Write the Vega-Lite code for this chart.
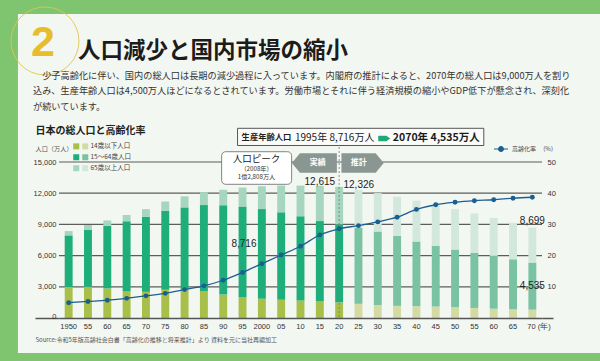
{
  "$schema": "https://vega.github.io/schema/vega-lite/v6.json",
  "autosize": {"type": "none"},
  "padding": {"left": 59, "top": 162, "right": 58, "bottom": 43},
  "width": 483,
  "height": 156,
  "background": "#7fc56f",
  "title": {
    "text": "​　　人口減少と国内市場の縮小",
    "subtitle": [
      "​　少子高齢化に伴い、国内の総人口は長期の減少過程に入っています。内閣府の推計によると、2070年の総人口は9,000万人を割り",
      "込み、生産年齢人口は4,500万人ほどになるとされています。労働市場とそれに伴う経済規模の縮小やGDP低下が懸念され、深刻化",
      "が続いています。"
    ],
    "anchor": "start",
    "frame": "group",
    "orient": "top",
    "dx": -26,
    "offset": -107,
    "font": "Noto Sans CJK JP",
    "fontSize": 22.5,
    "fontWeight": "bold",
    "color": "#1c1c1c",
    "subtitleFont": "Noto Sans CJK JP",
    "subtitleFontSize": 9.2,
    "subtitleColor": "#333333",
    "subtitleLineHeight": 15.5,
    "subtitlePadding": 9,
    "zindex": 2
  },
  "datasets": {
    "pop": [
      {"year": "1950", "group": "14歳以下人口", "value": 2979}, {"year": "1950", "group": "15～64歳人口", "value": 4966}, {"year": "1950", "group": "65歳以上人口", "value": 416},
      {"year": "1955", "group": "14歳以下人口", "value": 2998}, {"year": "1955", "group": "15～64歳人口", "value": 5473}, {"year": "1955", "group": "65歳以上人口", "value": 475},
      {"year": "1960", "group": "14歳以下人口", "value": 2843}, {"year": "1960", "group": "15～64歳人口", "value": 6000}, {"year": "1960", "group": "65歳以上人口", "value": 535},
      {"year": "1965", "group": "14歳以下人口", "value": 2553}, {"year": "1965", "group": "15～64歳人口", "value": 6744}, {"year": "1965", "group": "65歳以上人口", "value": 618},
      {"year": "1970", "group": "14歳以下人口", "value": 2515}, {"year": "1970", "group": "15～64歳人口", "value": 7212}, {"year": "1970", "group": "65歳以上人口", "value": 739},
      {"year": "1975", "group": "14歳以下人口", "value": 2722}, {"year": "1975", "group": "15～64歳人口", "value": 7581}, {"year": "1975", "group": "65歳以上人口", "value": 887},
      {"year": "1980", "group": "14歳以下人口", "value": 2751}, {"year": "1980", "group": "15～64歳人口", "value": 7883}, {"year": "1980", "group": "65歳以上人口", "value": 1065},
      {"year": "1985", "group": "14歳以下人口", "value": 2603}, {"year": "1985", "group": "15～64歳人口", "value": 8251}, {"year": "1985", "group": "65歳以上人口", "value": 1247},
      {"year": "1990", "group": "14歳以下人口", "value": 2249}, {"year": "1990", "group": "15～64歳人口", "value": 8590}, {"year": "1990", "group": "65歳以上人口", "value": 1493},
      {"year": "1995", "group": "14歳以下人口", "value": 2001}, {"year": "1995", "group": "15～64歳人口", "value": 8716}, {"year": "1995", "group": "65歳以上人口", "value": 1828},
      {"year": "2000", "group": "14歳以下人口", "value": 1847}, {"year": "2000", "group": "15～64歳人口", "value": 8622}, {"year": "2000", "group": "65歳以上人口", "value": 2204},
      {"year": "2005", "group": "14歳以下人口", "value": 1752}, {"year": "2005", "group": "15～64歳人口", "value": 8409}, {"year": "2005", "group": "65歳以上人口", "value": 2576},
      {"year": "2010", "group": "14歳以下人口", "value": 1680}, {"year": "2010", "group": "15～64歳人口", "value": 8103}, {"year": "2010", "group": "65歳以上人口", "value": 2948},
      {"year": "2015", "group": "14歳以下人口", "value": 1595}, {"year": "2015", "group": "15～64歳人口", "value": 7728}, {"year": "2015", "group": "65歳以上人口", "value": 3387},
      {"year": "2020", "group": "14歳以下人口", "value": 1503}, {"year": "2020", "group": "15～64歳人口", "value": 7509}, {"year": "2020", "group": "65歳以上人口", "value": 3603},
      {"year": "2025", "group": "14歳以下人口（推計）", "value": 1363}, {"year": "2025", "group": "15～64歳人口（推計）", "value": 7310}, {"year": "2025", "group": "65歳以上人口（推計）", "value": 3653},
      {"year": "2030", "group": "14歳以下人口（推計）", "value": 1240}, {"year": "2030", "group": "15～64歳人口（推計）", "value": 7076}, {"year": "2030", "group": "65歳以上人口（推計）", "value": 3696},
      {"year": "2035", "group": "14歳以下人口（推計）", "value": 1169}, {"year": "2035", "group": "15～64歳人口（推計）", "value": 6722}, {"year": "2035", "group": "65歳以上人口（推計）", "value": 3773},
      {"year": "2040", "group": "14歳以下人口（推計）", "value": 1142}, {"year": "2040", "group": "15～64歳人口（推計）", "value": 6213}, {"year": "2040", "group": "65歳以上人口（推計）", "value": 3928},
      {"year": "2045", "group": "14歳以下人口（推計）", "value": 1103}, {"year": "2045", "group": "15～64歳人口（推計）", "value": 5832}, {"year": "2045", "group": "65歳以上人口（推計）", "value": 3945},
      {"year": "2050", "group": "14歳以下人口（推計）", "value": 1041}, {"year": "2050", "group": "15～64歳人口（推計）", "value": 5540}, {"year": "2050", "group": "65歳以上人口（推計）", "value": 3888},
      {"year": "2055", "group": "14歳以下人口（推計）", "value": 966}, {"year": "2055", "group": "15～64歳人口（推計）", "value": 5307}, {"year": "2055", "group": "65歳以上人口（推計）", "value": 3778},
      {"year": "2060", "group": "14歳以下人口（推計）", "value": 893}, {"year": "2060", "group": "15～64歳人口（推計）", "value": 5078}, {"year": "2060", "group": "65歳以上人口（推計）", "value": 3644},
      {"year": "2065", "group": "14歳以下人口（推計）", "value": 836}, {"year": "2065", "group": "15～64歳人口（推計）", "value": 4809}, {"year": "2065", "group": "65歳以上人口（推計）", "value": 3513},
      {"year": "2070", "group": "14歳以下人口（推計）", "value": 797}, {"year": "2070", "group": "15～64歳人口（推計）", "value": 4535}, {"year": "2070", "group": "65歳以上人口（推計）", "value": 3367}
    ],
    "rate": [
      {"year": "1950", "rate": 4.9}, {"year": "1955", "rate": 5.3}, {"year": "1960", "rate": 5.7}, {"year": "1965", "rate": 6.3},
      {"year": "1970", "rate": 7.1}, {"year": "1975", "rate": 7.9}, {"year": "1980", "rate": 9.1}, {"year": "1985", "rate": 10.3},
      {"year": "1990", "rate": 12.1}, {"year": "1995", "rate": 14.6}, {"year": "2000", "rate": 17.4}, {"year": "2005", "rate": 20.2},
      {"year": "2010", "rate": 23.0}, {"year": "2015", "rate": 26.6}, {"year": "2020", "rate": 28.6}, {"year": "2025", "rate": 29.6},
      {"year": "2030", "rate": 30.8}, {"year": "2035", "rate": 32.3}, {"year": "2040", "rate": 34.8}, {"year": "2045", "rate": 36.3},
      {"year": "2050", "rate": 37.1}, {"year": "2055", "rate": 37.6}, {"year": "2060", "rate": 37.9}, {"year": "2065", "rate": 38.4},
      {"year": "2070", "rate": 38.7}
    ],
    "grid": [{"v": 3000}, {"v": 6000}, {"v": 9000}, {"v": 12000}, {"v": 15000}]
  },
  "layer": [
    {
      "data": {"values": [{}]},
      "mark": {"type": "rect", "fill": "#f3f7f1", "strokeWidth": 0},
      "encoding": {
        "x": {"datum": "1950", "type": "ordinal", "bandPosition": -5.9, "axis": null},
        "x2": {"datum": "2070", "bandPosition": 9.2},
        "y": {"datum": 29231, "type": "quantitative", "scale": {"domain": [0, 15000], "nice": false}, "axis": null},
        "y2": {"datum": -3365}
      }
    },
    {
      "data": {"values": [{}]},
      "mark": {"type": "point", "shape": "circle", "filled": false, "size": 4624, "color": "#e3c54a", "strokeWidth": 1, "opacity": 0.85},
      "encoding": {
        "x": {"datum": "1950", "type": "ordinal", "bandPosition": -2.49, "axis": null},
        "y": {"datum": 26635, "type": "quantitative", "scale": {"domain": [0, 15000], "nice": false}, "axis": null}
      }
    },
    {
      "data": {"name": "grid"},
      "mark": {"type": "rule", "color": "#5c5c5c", "strokeWidth": 1.2},
      "encoding": {
        "y": {"field": "v", "type": "quantitative", "scale": {"domain": [0, 15000], "nice": false}, "axis": null}
      }
    },
    {
      "data": {"name": "pop"},
      "mark": {"type": "bar"},
      "encoding": {
        "x": {
          "field": "year", "type": "ordinal",
          "scale": {"paddingInner": 0.59, "paddingOuter": 0.295},
          "axis": {
            "orient": "bottom", "zindex": 1, "ticks": false, "domainColor": "#555555", "domainWidth": 1.5,
            "labelAngle": 0, "labelPadding": 4, "labelFontSize": 7.5, "labelColor": "#333333",
            "labelFont": "Liberation Sans", "labelOverlap": false,
            "labelExpr": "datum.value == '1950' || datum.value == '2000' ? datum.value : (datum.value == '2070' ? '70 (年)' : substring(datum.value, 2, 4))",
            "labelAlign": {"condition": {"test": "datum.value == '2070'", "value": "left"}, "value": "center"},
            "labelOffset": {"condition": {"test": "datum.value == '2070'", "value": -5}, "value": 0},
            "title": "Source:令和5年版高齢社会白書「高齢化の推移と将来推計」より 資料を元に当社再編加工",
            "titleX": -24, "titleY": 21, "titleAlign": "left", "titleBaseline": "middle",
            "titleFont": "Noto Sans CJK JP", "titleFontSize": 6, "titleFontWeight": "normal", "titleColor": "#555555"
          }
        },
        "y": {
          "field": "value", "type": "quantitative", "stack": "zero",
          "scale": {"domain": [0, 15000], "nice": false},
          "axis": {
            "orient": "left", "zindex": 1, "values": [0, 3000, 6000, 9000, 12000, 15000],
            "labelExpr": "format(datum.value, ',')",
            "grid": false, "domain": false,
            "ticks": true, "tickSize": 24, "tickWidth": 1.5,
            "tickColor": {"condition": {"test": "datum.value === 0", "value": "#555555"}, "value": "transparent"},
            "labelPadding": -21,
            "labelBaseline": {"condition": {"test": "datum.value === 0", "value": "alphabetic"}, "value": "middle"},
            "labelFontSize": 7.5, "labelColor": "#333333", "labelFont": "Liberation Sans",
            "title": "人口（万人）", "titleAngle": 0, "titleX": -24, "titleY": -14, "titleAlign": "left",
            "titleBaseline": "middle", "titleFontSize": 6.2, "titleFontWeight": "normal", "titleColor": "#555555",
            "titleFont": "Noto Sans CJK JP"
          }
        },
        "color": {
          "field": "group", "type": "nominal",
          "scale": {
            "domain": ["14歳以下人口", "14歳以下人口（推計）", "15～64歳人口", "15～64歳人口（推計）", "65歳以上人口", "65歳以上人口（推計）"],
            "range": ["#a8bf4a", "#d3daa3", "#1eae7c", "#79c3a3", "#a6d6bf", "#d2e8dc"]
          },
          "legend": {
            "orient": "none", "legendX": 14, "legendY": -19, "columns": 2, "direction": "horizontal", "title": null,
            "symbolType": "square", "symbolSize": 36, "symbolStrokeWidth": 0,
            "columnPadding": 0, "rowPadding": 4, "labelOffset": 2,
            "labelFontSize": 6.5, "labelFont": "Noto Sans CJK JP", "labelColor": "#444444",
            "labelExpr": "indexof(datum.label, '（推計）') >= 0 ? replace(datum.label, '（推計）', '') : ''"
          }
        },
        "order": {"field": "group", "sort": "ascending"}
      }
    },
    {
      "data": {"values": [{}]},
      "mark": {"type": "rule", "color": "#777777", "strokeWidth": 0.8, "strokeDash": [2, 2]},
      "encoding": {
        "x": {"datum": "2020", "type": "ordinal", "axis": null},
        "y": {"datum": 16442, "type": "quantitative", "scale": {"domain": [0, 15000], "nice": false}, "axis": null},
        "y2": {"datum": 0}
      }
    },
    {
      "data": {"values": [{}]},
      "mark": {"type": "rect", "fill": "#ffffff", "stroke": "#666666", "strokeWidth": 0.8, "cornerRadius": 4},
      "encoding": {
        "x": {"datum": "1990", "type": "ordinal", "bandPosition": 0.3, "axis": null},
        "x2": {"datum": "2005", "bandPosition": 1.82},
        "y": {"datum": 15990, "type": "quantitative", "scale": {"domain": [0, 15000], "nice": false}, "axis": null},
        "y2": {"datum": 12856}
      }
    },
    {
      "data": {"values": [{}]},
      "mark": {"type": "text", "font": "Noto Sans CJK JP", "fontSize": 9.5, "color": "#222222", "align": "center", "baseline": "middle"},
      "encoding": {
        "x": {"datum": "2000", "type": "ordinal", "bandPosition": -0.17, "axis": null},
        "y": {"datum": 15288, "type": "quantitative", "scale": {"domain": [0, 15000], "nice": false}, "axis": null},
        "text": {"value": "人口ピーク"}
      }
    },
    {
      "data": {"values": [{}]},
      "mark": {"type": "text", "font": "Noto Sans CJK JP", "fontSize": 6.2, "color": "#333333", "align": "center", "baseline": "middle"},
      "encoding": {
        "x": {"datum": "2000", "type": "ordinal", "bandPosition": -0.17, "axis": null},
        "y": {"datum": 14330, "type": "quantitative", "scale": {"domain": [0, 15000], "nice": false}, "axis": null},
        "text": {"value": "（2008年）"}
      }
    },
    {
      "data": {"values": [{}]},
      "mark": {"type": "text", "font": "Noto Sans CJK JP", "fontSize": 6.2, "color": "#333333", "align": "center", "baseline": "middle"},
      "encoding": {
        "x": {"datum": "2000", "type": "ordinal", "bandPosition": -0.17, "axis": null},
        "y": {"datum": 13560, "type": "quantitative", "scale": {"domain": [0, 15000], "nice": false}, "axis": null},
        "text": {"value": "1億2,808万人"}
      }
    },
    {
      "data": {"values": [{}]},
      "mark": {"type": "point", "shape": "M-1,0L-0.64,-0.43L1,-0.43L1,0.43L-0.64,0.43Z", "size": 2025, "filled": true, "color": "#8a9692", "opacity": 1, "strokeWidth": 0},
      "encoding": {
        "x": {"datum": "2015", "type": "ordinal", "bandPosition": -0.19, "axis": null},
        "y": {"datum": 14904, "type": "quantitative", "scale": {"domain": [0, 15000], "nice": false}, "axis": null}
      }
    },
    {
      "data": {"values": [{}]},
      "mark": {"type": "point", "shape": "M1,0L0.62,-0.46L-1,-0.46L-1,0.46L0.62,0.46Z", "size": 1789, "filled": true, "color": "#8a9692", "opacity": 1, "strokeWidth": 0},
      "encoding": {
        "x": {"datum": "2025", "type": "ordinal", "bandPosition": 1.02, "axis": null},
        "y": {"datum": 14904, "type": "quantitative", "scale": {"domain": [0, 15000], "nice": false}, "axis": null}
      }
    },
    {
      "data": {"values": [{}]},
      "mark": {"type": "text", "font": "Noto Sans CJK JP", "fontSize": 8, "fontWeight": "bold", "color": "#ffffff", "align": "center", "baseline": "middle"},
      "encoding": {
        "x": {"datum": "2015", "type": "ordinal", "bandPosition": 0.25, "axis": null},
        "y": {"datum": 14904, "type": "quantitative", "scale": {"domain": [0, 15000], "nice": false}, "axis": null},
        "text": {"value": "実績"}
      }
    },
    {
      "data": {"values": [{}]},
      "mark": {"type": "text", "font": "Noto Sans CJK JP", "fontSize": 8, "fontWeight": "bold", "color": "#ffffff", "align": "center", "baseline": "middle"},
      "encoding": {
        "x": {"datum": "2025", "type": "ordinal", "bandPosition": 0.54, "axis": null},
        "y": {"datum": 14904, "type": "quantitative", "scale": {"domain": [0, 15000], "nice": false}, "axis": null},
        "text": {"value": "推計"}
      }
    },
    {
      "data": {"values": [{}]},
      "mark": {"type": "rect", "fill": "#fbfcfa", "stroke": "#555555", "strokeWidth": 1},
      "encoding": {
        "x": {"datum": "1995", "type": "ordinal", "bandPosition": -0.13, "axis": null},
        "x2": {"datum": "2055", "bandPosition": 1.69},
        "y": {"datum": 18240, "type": "quantitative", "scale": {"domain": [0, 15000], "nice": false}, "axis": null},
        "y2": {"datum": 16587}
      }
    },
    {
      "data": {"values": [{}]},
      "mark": {"type": "text", "font": "Noto Sans CJK JP", "fontSize": 8.3, "fontWeight": "bold", "color": "#222222", "align": "left", "baseline": "middle"},
      "encoding": {
        "x": {"datum": "1995", "type": "ordinal", "bandPosition": 0.38, "axis": null},
        "y": {"datum": 17260, "type": "quantitative", "scale": {"domain": [0, 15000], "nice": false}, "axis": null},
        "text": {"value": "生産年齢人口"}
      }
    },
    {
      "data": {"values": [{}]},
      "mark": {"type": "text", "font": "Noto Sans CJK JP", "fontSize": 10, "color": "#222222", "align": "left", "baseline": "middle"},
      "encoding": {
        "x": {"datum": "2010", "type": "ordinal", "bandPosition": -0.2, "axis": null},
        "y": {"datum": 17260, "type": "quantitative", "scale": {"domain": [0, 15000], "nice": false}, "axis": null},
        "text": {"value": "1995年 8,716万人"}
      }
    },
    {
      "data": {"values": [{}]},
      "mark": {"type": "point", "shape": "M-1,-0.45L0.35,-0.45L1,0L0.35,0.45L-1,0.45Z", "size": 144, "filled": true, "color": "#22a878", "opacity": 1, "strokeWidth": 0},
      "encoding": {
        "x": {"datum": "2030", "type": "ordinal", "bandPosition": 1.32, "axis": null},
        "y": {"datum": 17260, "type": "quantitative", "scale": {"domain": [0, 15000], "nice": false}, "axis": null}
      }
    },
    {
      "data": {"values": [{}]},
      "mark": {"type": "text", "font": "Noto Sans CJK JP", "fontSize": 10.5, "fontWeight": "bold", "color": "#1a1a1a", "align": "left", "baseline": "middle"},
      "encoding": {
        "x": {"datum": "2035", "type": "ordinal", "bandPosition": -0.04, "axis": null},
        "y": {"datum": 17260, "type": "quantitative", "scale": {"domain": [0, 15000], "nice": false}, "axis": null},
        "text": {"value": "2070年 4,535万人"}
      }
    },
    {
      "data": {"values": [{}]},
      "mark": {"type": "text", "font": "Liberation Sans", "fontSize": 10, "color": "#222222", "align": "center", "baseline": "middle"},
      "encoding": {
        "x": {"datum": "2015", "type": "ordinal", "bandPosition": 0.5, "axis": null},
        "y": {"datum": 13106, "type": "quantitative", "scale": {"domain": [0, 15000], "nice": false}, "axis": null},
        "text": {"value": "12,615"}
      }
    },
    {
      "data": {"values": [{}]},
      "mark": {"type": "text", "font": "Liberation Sans", "fontSize": 10, "color": "#222222", "align": "center", "baseline": "middle"},
      "encoding": {
        "x": {"datum": "2025", "type": "ordinal", "bandPosition": 0.54, "axis": null},
        "y": {"datum": 12788, "type": "quantitative", "scale": {"domain": [0, 15000], "nice": false}, "axis": null},
        "text": {"value": "12,326"}
      }
    },
    {
      "data": {"values": [{}]},
      "mark": {"type": "text", "font": "Liberation Sans", "fontSize": 10, "color": "#222222", "align": "center", "baseline": "middle"},
      "encoding": {
        "x": {"datum": "1995", "type": "ordinal", "bandPosition": 0.68, "axis": null},
        "y": {"datum": 7115, "type": "quantitative", "scale": {"domain": [0, 15000], "nice": false}, "axis": null},
        "text": {"value": "8,716"}
      }
    },
    {
      "data": {"values": [{}]},
      "mark": {"type": "text", "font": "Liberation Sans", "fontSize": 10, "color": "#222222", "align": "center", "baseline": "middle"},
      "encoding": {
        "x": {"datum": "2070", "type": "ordinal", "bandPosition": 0.5, "axis": null},
        "y": {"datum": 9356, "type": "quantitative", "scale": {"domain": [0, 15000], "nice": false}, "axis": null},
        "text": {"value": "8,699"}
      }
    },
    {
      "data": {"values": [{}]},
      "mark": {"type": "text", "font": "Liberation Sans", "fontSize": 10, "color": "#222222", "align": "center", "baseline": "middle"},
      "encoding": {
        "x": {"datum": "2070", "type": "ordinal", "bandPosition": 0.5, "axis": null},
        "y": {"datum": 3077, "type": "quantitative", "scale": {"domain": [0, 15000], "nice": false}, "axis": null},
        "text": {"value": "4,535"}
      }
    },
    {
      "data": {"name": "rate"},
      "mark": {"type": "line", "strokeWidth": 1.3, "interpolate": "monotone"},
      "encoding": {
        "x": {
          "field": "year", "type": "ordinal",
          "axis": {
            "orient": "top", "zindex": 1, "labels": false, "ticks": false, "domain": false, "grid": false,
            "title": "日本の総人口と高齢化率", "titleX": -24, "titleY": -32, "titleAlign": "left",
            "titleBaseline": "middle", "titleFontSize": 10, "titleFont": "Noto Sans CJK JP",
            "titleFontWeight": "bold", "titleColor": "#222222"
          }
        },
        "y": {
          "field": "rate", "type": "quantitative",
          "scale": {"domain": [0, 50], "nice": false},
          "axis": {
            "orient": "right", "zindex": 1, "values": [0, 10, 20, 30, 40, 50], "grid": false, "domain": false,
            "labelExpr": "datum.value === 0 ? '' : datum.label",
            "ticks": true, "tickSize": 11, "tickWidth": 1.5,
            "tickColor": {"condition": {"test": "datum.value === 0", "value": "#555555"}, "value": "transparent"},
            "labelPadding": -6, "labelFontSize": 7.5, "labelColor": "#333333", "labelFont": "Liberation Sans",
            "title": "2", "titleAngle": 0, "titleX": -499.5, "titleY": -107, "titleAlign": "center",
            "titleBaseline": "alphabetic", "titleFontSize": 43, "titleFont": "Liberation Sans",
            "titleFontWeight": "bold", "titleColor": "#e8bd2b"
          }
        },
        "stroke": {
          "datum": "高齢化率",
          "scale": {"range": ["#1b5f92"]},
          "legend": {
            "orient": "none", "legendX": 434, "legendY": -21, "title": null,
            "symbolType": "M-1,0L1,0M-0.34,0A0.34,0.34,0,1,1,0.34,0A0.34,0.34,0,1,1,-0.34,0Z",
            "symbolSize": 196, "symbolStrokeWidth": 1.2, "symbolFillColor": "#1b5f92",
            "labelFontSize": 6, "labelFont": "Noto Sans CJK JP", "labelColor": "#444444", "labelOffset": 3,
            "labelExpr": "datum.label + '　 (%)'"
          }
        }
      }
    },
    {
      "data": {"name": "rate"},
      "mark": {"type": "point", "filled": true, "size": 24, "color": "#1b5f92", "opacity": 1},
      "encoding": {
        "x": {"field": "year", "type": "ordinal", "axis": null},
        "y": {"field": "rate", "type": "quantitative", "scale": {"domain": [0, 50], "nice": false}, "axis": null}
      }
    }
  ],
  "resolve": {"scale": {"y": "independent"}, "axis": {"x": "independent"}},
  "config": {
    "view": {"stroke": null}
  }
}
